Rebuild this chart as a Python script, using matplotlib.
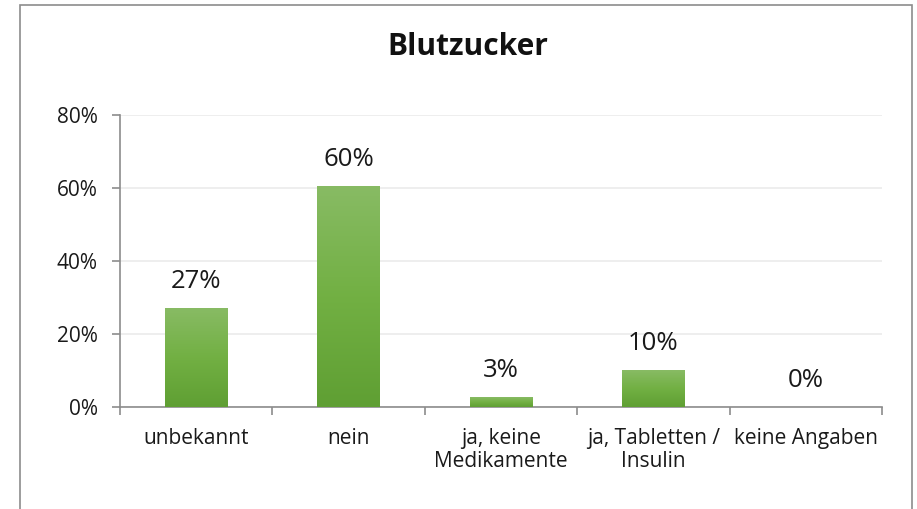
import matplotlib.pyplot as plt
import numpy as np
from matplotlib.patches import Rectangle
from matplotlib.colors import LinearSegmentedColormap

# === Data ===
categories = ["unbekannt", "nein", "ja, keine\nMedikamente", "ja, Tabletten /\nInsulin", "keine Angaben"]
values = [27.1, 60.5, 2.7, 10.1, 0.0]
labels = ["27%", "60%", "3%", "10%", "0%"]

plt.rcParams["font.family"] = ["Open Sans", "DejaVu Sans"]

fig = plt.figure(figsize=(9.17, 5.09), dpi=100)
ax = fig.add_axes([120 / 917, 1 - 407 / 509, 762 / 917, 292 / 509])

# outer frame of the chart object
fig.patches.append(Rectangle((20 / 917, -0.05), 892 / 917, 1.05 - 5 / 509,
                             transform=fig.transFigure, fill=False,
                             edgecolor="#8c8c8c", linewidth=1.2))

x = np.arange(len(categories))
width = 0.41
bars = ax.bar(x, values, width=width, color="#6cab3f", zorder=2)

# vertical gradient on each bar
cmap = LinearSegmentedColormap.from_list("grn", ["#5f9f33", "#72b043", "#88bb64"])
grad = np.linspace(0, 1, 256).reshape(-1, 1)
for b in bars:
    if b.get_height() <= 0:
        continue
    x0, y0 = b.get_x(), b.get_y()
    im = ax.imshow(grad, extent=(x0, x0 + b.get_width(), y0, y0 + b.get_height()),
                   origin="lower", cmap=cmap, aspect="auto", zorder=3)
    im.set_clip_path(b)

for xi, v, lab in zip(x, values, labels):
    ax.text(xi, v + 3.8, lab, ha="center", va="bottom", fontsize=18.5,
            color="#1a1a1a")

ax.set_xlim(-0.5, len(categories) - 0.5)
ax.set_ylim(0, 80)
ax.set_yticks([0, 20, 40, 60, 80])
ax.set_yticklabels(["0%", "20%", "40%", "60%", "80%"], fontsize=15, color="#1a1a1a")
ax.yaxis.grid(True, color="#ebebeb", linewidth=1.2, zorder=0)
ax.set_axisbelow(True)

ax.set_xticks(x)
ax.set_xticklabels(categories, fontsize=15, color="#1a1a1a", linespacing=1.15)
ax.tick_params(axis="x", length=0, pad=15)
ax.set_xticks(np.arange(-0.5, len(categories)), minor=True)
ax.tick_params(axis="x", which="minor", length=6, color="#8c8c8c", width=1.2)
ax.tick_params(axis="y", length=6, color="#8c8c8c", width=1.2, pad=10)

for s in ["top", "right"]:
    ax.spines[s].set_visible(False)
for s in ["left", "bottom"]:
    ax.spines[s].set_color("#8c8c8c")
    ax.spines[s].set_linewidth(1.2)

fig.text(468 / 917, 1 - 47 / 509, "Blutzucker", ha="center", va="center",
         fontsize=21.5, fontweight="bold", color="#111111")

fig.savefig("out.png", dpi=100)
